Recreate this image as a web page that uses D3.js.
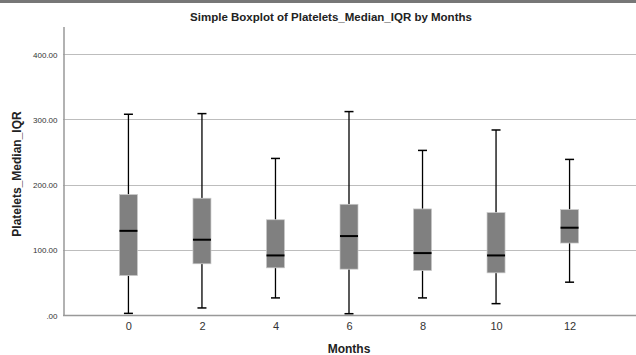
<!DOCTYPE html>
<meta charset="utf-8">
<script src="https://d3js.org/d3.v7.min.js"></script>
<style>
  body { margin: 0; background: #fff; }
  text { font-family: "Liberation Sans", Arial, sans-serif; }
</style>
<div id="chart"></div>
<script>
// chart values
var months = ["0", "2", "4", "6", "8", "10", "12"];
var whiskerLow = [2.5, 10.8, 26.2, 2, 26.2, 17.4, 50.3];
var q1 = [60.5, 78.5, 72.3, 70.3, 68.2, 64.6, 110.3];
var median = [129, 115.4, 91.3, 121, 94.9, 91.3, 133.8];
var q3 = [184.6, 179, 146, 169.7, 162.6, 156.9, 161.5];
var whiskerHigh = [307.7, 308.7, 240, 311.8, 252.3, 283.6, 238.5];
var yTicks = [0, 100, 200, 300, 400];

var W = 636, H = 355;
var plotLeft = 63, plotRight = 636, plotTop = 26, plotBottom = 315;

var svg = d3.select("#chart").append("svg")
    .attr("width", W)
    .attr("height", H);

// dark strip along the top edge
svg.append("rect")
    .attr("x", 0).attr("y", 0)
    .attr("width", W).attr("height", 3)
    .attr("fill", "#777");

var x = d3.scalePoint()
    .domain(months)
    .range([plotLeft, plotRight - 1])
    .padding(0.89);

var y = d3.scaleLinear()
    .domain([0, 443])
    .range([plotBottom, plotTop]);

// grid lines
svg.append("g")
  .selectAll("line")
  .data(yTicks.filter(function(d){ return d > 0; }))
  .enter()
  .append("line")
    .attr("x1", plotLeft).attr("x2", plotRight)
    .attr("y1", function(d){ return Math.round(y(d)) + 0.5; })
    .attr("y2", function(d){ return Math.round(y(d)) + 0.5; })
    .attr("stroke", "#bdbdbd")
    .attr("stroke-width", 1);

// y axis
var yAxis = svg.append("g")
    .attr("transform", "translate(" + (plotLeft + 0.5) + ",0.5)")
    .call(d3.axisLeft(y).tickValues(yTicks).tickSize(0).tickPadding(6)
      .tickFormat(function(d){ return d === 0 ? ".00" : d3.format(".2f")(d); }));
yAxis.select(".domain").attr("stroke", "#999").attr("stroke-width", 1.5);
yAxis.selectAll("text")
    .attr("font-size", "8px")
    .attr("fill", "#333")
    .attr("font-family", "Liberation Sans, Arial, sans-serif");

// x axis
var xAxis = svg.append("g")
    .attr("transform", "translate(0," + (plotBottom + 0.5) + ")")
    .call(d3.axisBottom(x).tickSize(0).tickPadding(7));
xAxis.select(".domain").attr("stroke", "#999").attr("stroke-width", 1.5)
    .attr("d", "M" + plotLeft + ",0H" + plotRight);
xAxis.selectAll("text")
    .attr("font-size", "11px")
    .attr("fill", "#333")
    .attr("font-family", "Liberation Sans, Arial, sans-serif");

// boxes
var data = months.map(function(m, i){
  return {m: m, lo: whiskerLow[i], q1: q1[i], med: median[i], q3: q3[i], hi: whiskerHigh[i]};
});
var bw = 18, cap = 8;

var boxes = svg.append("g")
  .selectAll("g")
  .data(data)
  .enter()
  .append("g")
    .attr("transform", function(d){ return "translate(" + x(d.m) + ",0)"; });

boxes.append("line")
    .attr("x1", 0).attr("x2", 0)
    .attr("y1", function(d){ return y(d.hi); })
    .attr("y2", function(d){ return y(d.q3); })
    .attr("stroke", "#000").attr("stroke-width", 1.3);
boxes.append("line")
    .attr("x1", 0).attr("x2", 0)
    .attr("y1", function(d){ return y(d.q1); })
    .attr("y2", function(d){ return y(d.lo); })
    .attr("stroke", "#000").attr("stroke-width", 1.3);
boxes.append("line")
    .attr("x1", -cap/2 - 0.5).attr("x2", cap/2 + 0.5)
    .attr("y1", function(d){ return y(d.hi); })
    .attr("y2", function(d){ return y(d.hi); })
    .attr("stroke", "#000").attr("stroke-width", 1.5);
boxes.append("line")
    .attr("x1", -cap/2 - 0.5).attr("x2", cap/2 + 0.5)
    .attr("y1", function(d){ return y(d.lo); })
    .attr("y2", function(d){ return y(d.lo); })
    .attr("stroke", "#000").attr("stroke-width", 1.5);
boxes.append("rect")
    .attr("x", -bw/2)
    .attr("width", bw)
    .attr("y", function(d){ return y(d.q3); })
    .attr("height", function(d){ return y(d.q1) - y(d.q3); })
    .attr("fill", "#808080")
    .attr("stroke", "#c8c8c8")
    .attr("stroke-width", 0.7);
boxes.append("line")
    .attr("x1", -bw/2).attr("x2", bw/2)
    .attr("y1", function(d){ return y(d.med); })
    .attr("y2", function(d){ return y(d.med); })
    .attr("stroke", "#000").attr("stroke-width", 2);

// titles
svg.append("text")
    .attr("x", 331).attr("y", 21)
    .attr("text-anchor", "middle")
    .attr("font-size", "11.5px")
    .attr("font-weight", "bold")
    .attr("fill", "#222")
    .text("Simple Boxplot of Platelets_Median_IQR by Months");

svg.append("text")
    .attr("x", 349).attr("y", 353)
    .attr("text-anchor", "middle")
    .attr("font-size", "12px")
    .attr("font-weight", "bold")
    .attr("fill", "#222")
    .text("Months");

svg.append("text")
    .attr("transform", "translate(21,174) rotate(-90)")
    .attr("text-anchor", "middle")
    .attr("font-size", "12px")
    .attr("font-weight", "bold")
    .attr("fill", "#222")
    .text("Platelets_Median_IQR");
</script>
